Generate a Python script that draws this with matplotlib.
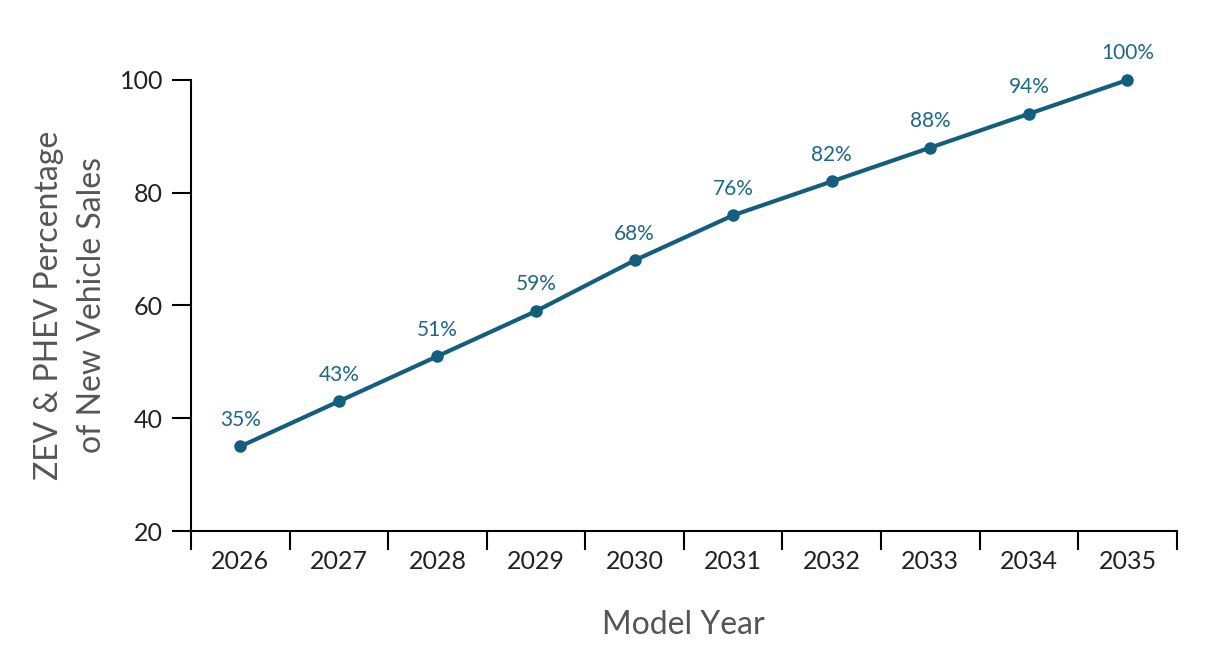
import matplotlib
matplotlib.use("Agg")
import matplotlib.pyplot as plt
from matplotlib.ticker import FixedLocator

years = ["2026", "2027", "2028", "2029", "2030", "2031", "2032", "2033", "2034", "2035"]
shares = [35, 43, 51, 59, 68, 76, 82, 88, 94, 100]
labels = ["35%", "43%", "51%", "59%", "68%", "76%", "82%", "88%", "94%", "100%"]

plt.rcParams["font.family"] = ["Lato", "DejaVu Sans"]

line_color = "#145e7d"
text_color = "#1d6888"

fig = plt.figure(figsize=(12.14, 6.66), dpi=100)
axes = fig.add_axes([0.1573, 0.2027, 0.812, 0.6772])

x = list(range(len(years)))
axes.plot(x, shares, color=line_color, linewidth=3, marker="o", markersize=8,
          solid_capstyle="round", clip_on=False, zorder=3)

# Percentage labels above every point.
for xi, yi, lab in zip(x, shares, labels):
    axes.annotate(lab, (xi, yi), xytext=(0, 12), textcoords="offset points",
                  ha="center", va="bottom", fontsize=15, color=text_color)

axes.set_xlim(-0.5, len(years) - 0.5)
axes.set_ylim(20, 100)
axes.set_yticks([20, 40, 60, 80, 100])
axes.set_xticks(x)
axes.set_xticklabels(years)
axes.xaxis.set_minor_locator(FixedLocator([i - 0.5 for i in range(len(years) + 1)]))

axes.tick_params(axis="x", which="major", length=0, pad=14, labelsize=18, labelcolor="#222222")
axes.tick_params(axis="x", which="minor", length=14, width=1.5, color="black")
axes.tick_params(axis="y", which="major", length=14, width=1.5, labelsize=18, pad=6,
                 labelcolor="#222222")

for side in ["top", "right"]:
    axes.spines[side].set_visible(False)
for side in ["left", "bottom"]:
    axes.spines[side].set_linewidth(1.5)
axes.spines["left"].set_bounds(20, 100)

axes.set_ylabel("ZEV & PHEV Percentage\nof New Vehicle Sales", fontsize=23, color="#555555",
                labelpad=9, linespacing=1.55)
axes.set_xlabel("Model Year", fontsize=23, color="#555555", labelpad=26)

fig.savefig("out.png", dpi=100)
